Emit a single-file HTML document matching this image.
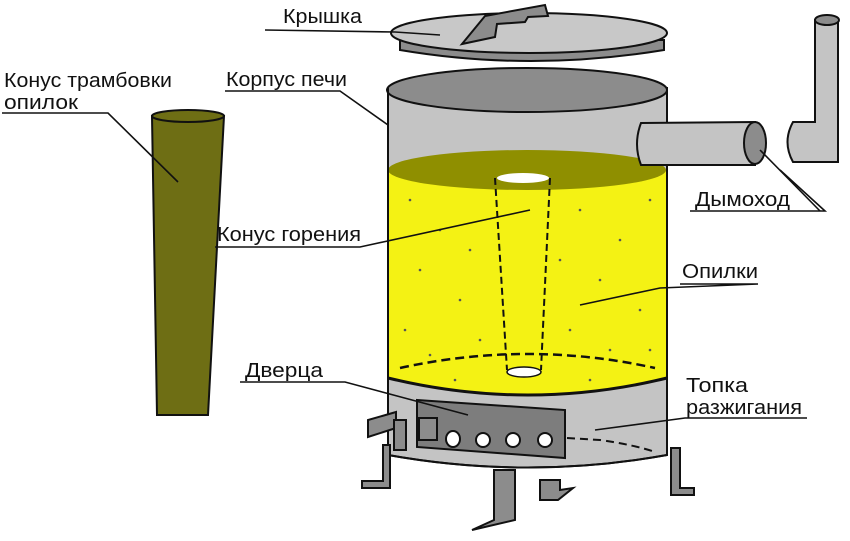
<!DOCTYPE html>
<html><head><meta charset="utf-8"><style>
html,body{margin:0;padding:0;background:#fff;}
svg{display:block;}
text{font-family:"Liberation Sans","DejaVu Sans",sans-serif;font-size:20px;fill:#111;}
</style></head><body>
<svg width="850" height="541" viewBox="0 0 850 541" xmlns="http://www.w3.org/2000/svg">
<rect width="850" height="541" fill="#fff"/>
<g stroke="#111" stroke-width="2">
<path d="M152,116 L224,116 L208,415 L157,415 Z" fill="#6e6e14"/>
<ellipse cx="188" cy="116" rx="36" ry="6" fill="#6e6e14"/>
<path d="M400,40 L400,50 Q530,72 664,50 L664,40 Z" fill="#8c8c8c"/>
<ellipse cx="529" cy="33" rx="138" ry="20" fill="#c8c8c8"/>
<path d="M462,44 L485,16 L545,5 L548,16 L528,17 L525,22 L497,24 L495,37 L462,44 Z" fill="#8c8c8c"/>
<path d="M388,88 L388,455 Q528,480 667,455 L667,88 Z" fill="#c4c4c4"/>
<ellipse cx="527" cy="90" rx="140" ry="22" fill="#8c8c8c"/>
<path d="M388,170 L388,378 Q528,412 667,378 L667,170 Z" fill="#f4f214" stroke="none"/>
<ellipse cx="527" cy="170" rx="139" ry="20" fill="#8f8f00" stroke="none"/>
<path d="M388,378 Q528,412 667,378" fill="none" stroke-width="3"/>
<path d="M388,88 L388,455 M667,88 L667,455" fill="none"/>
<path d="M388,455 Q528,480 667,455" fill="none"/>
<ellipse cx="523" cy="178" rx="26" ry="5" fill="#fff" stroke="none"/>
<path d="M495,178 L507,370 M550,178 L541,370" fill="none" stroke-dasharray="7,4"/>
<ellipse cx="524" cy="372" rx="17" ry="5" fill="#fff" stroke-width="1.5"/>
<path d="M400,368 Q528,340 655,368" fill="none" stroke-dasharray="9,5" stroke-width="2.5"/>
<path d="M417,400 L565,410 L565,458 L417,447 Z" fill="#7d7d7d"/>
<rect x="419" y="418" width="18" height="22" fill="#8c8c8c"/>
<g fill="#fff"><ellipse cx="453" cy="439" rx="7" ry="8"/><ellipse cx="483" cy="440" rx="7" ry="7"/><ellipse cx="513" cy="440" rx="7" ry="7"/><ellipse cx="545" cy="440" rx="7" ry="7"/></g>
<path d="M396,412 L368,420 L368,437 L396,428 Z" fill="#8c8c8c"/>
<rect x="394" y="420" width="12" height="30" fill="#8c8c8c"/>
<path d="M567,438 L600,440 Q635,445 655,452" fill="none" stroke-dasharray="8,5"/>
<path d="M383,445 L390,445 L390,488 L362,488 L362,481 L383,481 Z" fill="#8c8c8c"/>
<path d="M671,448 L680,448 L680,488 L694,488 L694,495 L671,495 Z" fill="#8c8c8c"/>
<path d="M494,470 L515,470 L515,520 L472,530 L494,520 Z" fill="#8c8c8c"/>
<path d="M540,480 L560,480 L560,490 L573,488 L558,500 L540,500 Z" fill="#8c8c8c"/>
<path d="M641,123 L755,122 L755,165 L641,165 Q633,144 641,123 Z" fill="#c4c4c4"/>
<ellipse cx="755" cy="143" rx="11" ry="21" fill="#8c8c8c"/>
<path d="M815,20 L838,20 L838,162 L793,162 Q782,142 793,122 L815,122 Z" fill="#c4c4c4"/>
<ellipse cx="827" cy="20" rx="12" ry="5" fill="#8c8c8c"/>
</g>
<g fill="#555">
<circle cx="410" cy="200" r="1.3"/><circle cx="440" cy="230" r="1.3"/><circle cx="420" cy="270" r="1.3"/><circle cx="460" cy="300" r="1.3"/><circle cx="405" cy="330" r="1.3"/><circle cx="470" cy="250" r="1.3"/><circle cx="480" cy="340" r="1.3"/><circle cx="430" cy="355" r="1.3"/><circle cx="580" cy="210" r="1.3"/><circle cx="620" cy="240" r="1.3"/><circle cx="600" cy="280" r="1.3"/><circle cx="640" cy="310" r="1.3"/><circle cx="570" cy="330" r="1.3"/><circle cx="650" cy="200" r="1.3"/><circle cx="610" cy="350" r="1.3"/><circle cx="560" cy="260" r="1.3"/><circle cx="650" cy="350" r="1.3"/><circle cx="455" cy="380" r="1.3"/><circle cx="590" cy="380" r="1.3"/>
</g>
<g stroke="#111" stroke-width="1.6" fill="none">
<path d="M265,30 L395,32 L440,35"/>
<path d="M225,91 L340,91 L388,125"/>
<path d="M2,113 L108,113 L178,182"/>
<path d="M215,247 L360,247 L530,210"/>
<path d="M690,211 L825,211 L780,170"/>
<path d="M820,211 L760,150"/>
<path d="M680,284 L758,284 L660,288 L580,305"/>
<path d="M240,382 L345,382 L468,415"/>
<path d="M807,418 L685,418 L595,430"/>
</g>
<text x="283" y="23" textLength="79" lengthAdjust="spacingAndGlyphs">Крышка</text>
<text x="226" y="86" textLength="121" lengthAdjust="spacingAndGlyphs">Корпус печи</text>
<text x="4" y="87" textLength="168" lengthAdjust="spacingAndGlyphs">Конус трамбовки</text>
<text x="4" y="109" textLength="74" lengthAdjust="spacingAndGlyphs">опилок</text>
<text x="217" y="241" textLength="144" lengthAdjust="spacingAndGlyphs">Конус горения</text>
<text x="695" y="206" textLength="95" lengthAdjust="spacingAndGlyphs">Дымоход</text>
<text x="682" y="278" textLength="76" lengthAdjust="spacingAndGlyphs">Опилки</text>
<text x="245" y="377" textLength="78" lengthAdjust="spacingAndGlyphs">Дверца</text>
<text x="686" y="392" textLength="62" lengthAdjust="spacingAndGlyphs">Топка</text>
<text x="686" y="414" textLength="116" lengthAdjust="spacingAndGlyphs">разжигания</text>
</svg>
</body></html>
